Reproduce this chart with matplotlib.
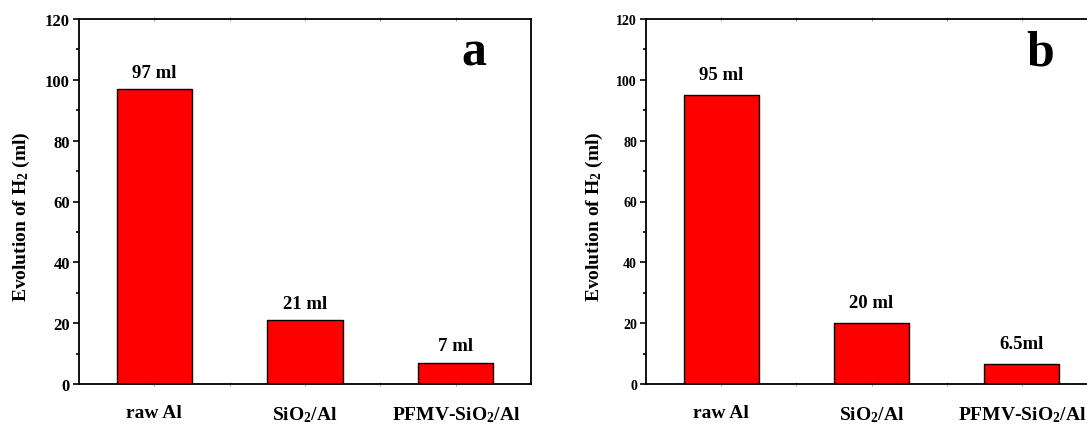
import matplotlib
matplotlib.use("Agg")
import numpy as np
from matplotlib import pyplot as plt
from matplotlib.ticker import MultipleLocator, FixedLocator

plt.rcParams['font.family'] = 'Liberation Serif'
plt.rcParams['font.weight'] = 'bold'
plt.rcParams['mathtext.fontset'] = 'custom'
plt.rcParams['mathtext.rm'] = 'Liberation Serif:bold'
plt.rcParams['mathtext.it'] = 'Liberation Serif:bold'
plt.rcParams['mathtext.bf'] = 'Liberation Serif:bold'

samples = ["raw Al", "SiO$_2$/Al", "PFMV-SiO$_2$/Al"]
h2_a = [97, 21, 7]
h2_b = [95, 20, 6.5]
labels_a = ["97 ml", "21 ml", "7 ml"]
labels_b = ["95 ml", "20 ml", "6.5ml"]


def bar_panel(ax, vals, texts, letter, ytick_size, text_off, ylab_x):
    x = np.arange(len(vals))
    ax.bar(x, vals, width=0.5, color='#ff0000', edgecolor='black', linewidth=1.0)
    for xi, v, t in zip(x, vals, texts):
        ax.annotate(t, (xi, v), xytext=(0, text_off), textcoords='offset points',
                    ha='center', va='bottom', fontsize=13.5, fontweight='bold')
    ax.set_xlim(-0.5, 2.5)
    ax.set_ylim(0, 120)
    ax.yaxis.set_major_locator(MultipleLocator(20))
    ax.yaxis.set_minor_locator(MultipleLocator(10))
    ax.tick_params(axis='y', which='major', direction='out', length=4.5, width=1.2,
                   labelsize=ytick_size, pad=2, right=False)
    ax.tick_params(axis='y', which='minor', direction='out', length=2.5, width=1.2, right=False)
    ax.set_xticks(x)
    ax.set_xticklabels(samples, fontsize=14)
    ax.xaxis.set_minor_locator(FixedLocator([0.5, 1.5]))
    ax.tick_params(axis='x', which='both', direction='inout', length=3, width=0.5,
                   color='#777777', top=True, pad=13)
    for s in ax.spines.values():
        s.set_linewidth(1.3)
    ax.set_ylabel("Evolution of H$_2$ (ml)", fontsize=14, fontweight='bold')
    ax.yaxis.set_label_coords(ylab_x, 0.46)
    ax.text(0.874, 0.874, letter, transform=ax.transAxes, ha='center', va='baseline',
            fontsize=36, fontweight='bold')


fig = plt.figure(figsize=(10.87, 4.27), dpi=100)
W, H = 1087, 427
ax1 = fig.add_axes([79 / W, 42 / H, 452 / W, 365 / H])
ax2 = fig.add_axes([646 / W, 42 / H, 451 / W, 365 / H])

bar_panel(ax1, h2_a, labels_a, 'a', 12, 6, -0.104)
bar_panel(ax2, h2_b, labels_b, 'b', 10, 9, -0.092)

fig.savefig("out.png", dpi=100)
